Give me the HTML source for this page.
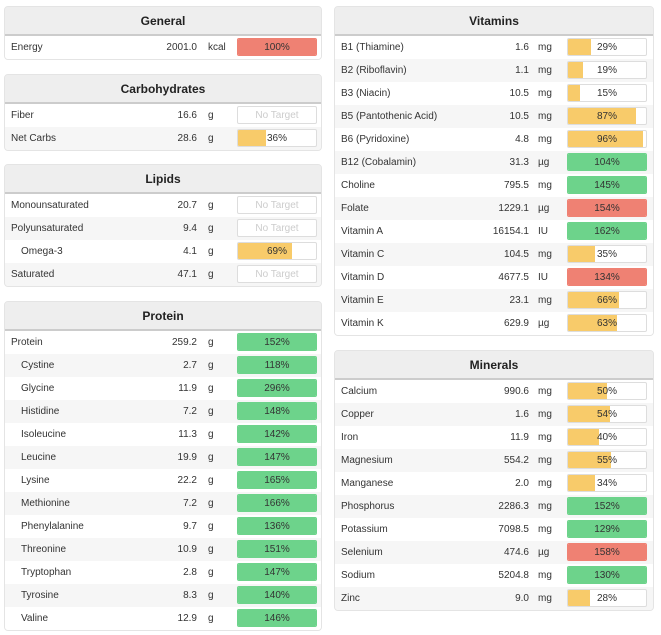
<!DOCTYPE html>
<html><head><meta charset="utf-8"><style>
body{margin:0;width:661px;height:635px;background:#fff;font-family:"Liberation Sans",sans-serif;position:relative;overflow:hidden;color:#333}
.panel{position:absolute;width:318px;border:1px solid #e4e4e4;border-radius:4px;background:#f6f6f6;box-sizing:border-box;overflow:hidden}
.hdr{height:27px;line-height:28px;text-align:center;font-weight:bold;font-size:12px;background:#eee;border-bottom:2px solid #ccc;color:#222}
.row{position:relative;height:23px;font-size:10px;line-height:23px}
.row:nth-child(odd){background:#fff}
.row:nth-child(even){background:#f6f6f6}
.nm{position:absolute;left:6px}
.val{position:absolute;right:124px;text-align:right}
.unit{position:absolute;left:203px}
.bar{position:absolute;left:232px;top:2px;width:80px;height:18px;border:1px solid #ddd;background:#fff;box-sizing:border-box;border-radius:2px;overflow:hidden}
.fill{position:absolute;left:0;top:0;bottom:0}
.bt{position:absolute;left:0;right:0;top:0;line-height:17px;text-align:center;font-size:10px;color:#333}
.nt .bt{color:#ccc}
</style></head><body>
<script>
const panels=[
{title:"General",x:4,y:6,w:318,rows:[["Energy","2001.0","kcal",100,"red"]]},
{title:"Carbohydrates",x:4,y:74,w:318,rows:[["Fiber","16.6","g",null],["Net Carbs","28.6","g",36,"y"]]},
{title:"Lipids",x:4,y:164,w:318,rows:[["Monounsaturated","20.7","g",null],["Polyunsaturated","9.4","g",null],["  Omega-3","4.1","g",69,"y"],["Saturated","47.1","g",null]]},
{title:"Protein",x:4,y:301,w:318,rows:[["Protein","259.2","g",152,"g"],["  Cystine","2.7","g",118,"g"],["  Glycine","11.9","g",296,"g"],["  Histidine","7.2","g",148,"g"],["  Isoleucine","11.3","g",142,"g"],["  Leucine","19.9","g",147,"g"],["  Lysine","22.2","g",165,"g"],["  Methionine","7.2","g",166,"g"],["  Phenylalanine","9.7","g",136,"g"],["  Threonine","10.9","g",151,"g"],["  Tryptophan","2.8","g",147,"g"],["  Tyrosine","8.3","g",140,"g"],["  Valine","12.9","g",146,"g"]]},
{title:"Vitamins",x:334,y:6,w:320,rows:[["B1 (Thiamine)","1.6","mg",29,"y"],["B2 (Riboflavin)","1.1","mg",19,"y"],["B3 (Niacin)","10.5","mg",15,"y"],["B5 (Pantothenic Acid)","10.5","mg",87,"y"],["B6 (Pyridoxine)","4.8","mg",96,"y"],["B12 (Cobalamin)","31.3","µg",104,"g"],["Choline","795.5","mg",145,"g"],["Folate","1229.1","µg",154,"red"],["Vitamin A","16154.1","IU",162,"g"],["Vitamin C","104.5","mg",35,"y"],["Vitamin D","4677.5","IU",134,"red"],["Vitamin E","23.1","mg",66,"y"],["Vitamin K","629.9","µg",63,"y"]]},
{title:"Minerals",x:334,y:350,w:320,rows:[["Calcium","990.6","mg",50,"y"],["Copper","1.6","mg",54,"y"],["Iron","11.9","mg",40,"y"],["Magnesium","554.2","mg",55,"y"],["Manganese","2.0","mg",34,"y"],["Phosphorus","2286.3","mg",152,"g"],["Potassium","7098.5","mg",129,"g"],["Selenium","474.6","µg",158,"red"],["Sodium","5204.8","mg",130,"g"],["Zinc","9.0","mg",28,"y"]]}
];
const colors={red:"#ef8173",y:"#f8cb6a",g:"#6dd38b"};
panels.forEach(p=>{
 const d=document.createElement('div');d.className='panel';
 
 
 d.style.left=p.x+'px';d.style.top=p.y+'px';d.style.width=p.w+'px';
 const h=document.createElement('div');h.className='hdr';h.textContent=p.title;
 
 
 d.appendChild(h);
 const body=document.createElement('div');
 p.rows.forEach(r=>{
  const rw=document.createElement('div');rw.className='row';
  
  
  const ind=r[0].startsWith('  ');
  rw.innerHTML='<span class="nm" style="left:'+(ind?16:6)+'px">'+r[0].trim()+'</span><span class="val">'+r[1]+'</span><span class="unit">'+r[2]+'</span>';
  const b=document.createElement('div');b.className='bar'+(r[3]==null?' nt':'');
  
  
  if(r[3]==null){b.innerHTML='<div class="bt">No Target</div>';}
  else{b.innerHTML='<div class="fill" style="width:'+Math.min(r[3],100)+'%;background:'+colors[r[4]]+'"></div><div class="bt">'+r[3]+'%</div>';
   if(r[3]>=100)b.style.borderColor=colors[r[4]];}
  rw.appendChild(b);body.appendChild(rw);
 });
 d.appendChild(body);document.body.appendChild(d);
});
</script>
</body></html>
